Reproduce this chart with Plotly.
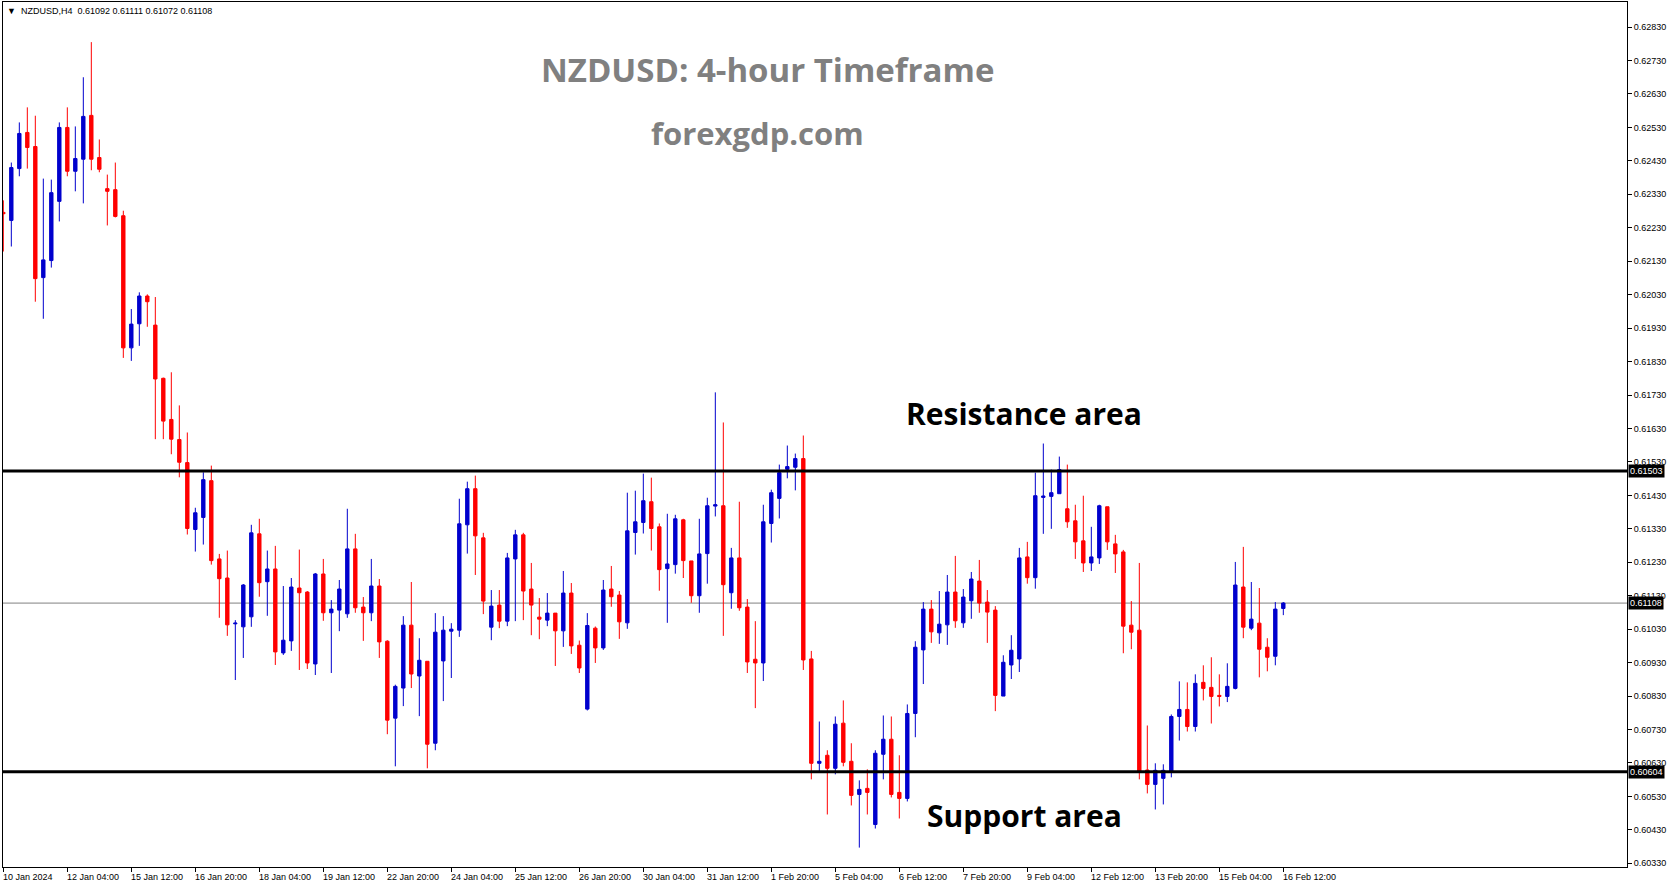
import plotly.graph_objects as go

# ---------------- data (NZDUSD H4 candles) ----------------
opens = [0.62276, 0.62252, 0.62407, 0.62515, 0.62473, 0.62081, 0.62132, 0.62309, 0.62530, 0.62399,
         0.62435, 0.62566, 0.62440, 0.62347, 0.62344, 0.62266, 0.61871, 0.61943, 0.62026, 0.61939,
         0.61780, 0.61657, 0.61597, 0.61528, 0.61328, 0.61364, 0.61474, 0.61240, 0.61183, 0.61046,
         0.61037, 0.61067, 0.61315, 0.61172, 0.61210, 0.60959, 0.60995, 0.61153, 0.61141, 0.60926,
         0.61195, 0.61079, 0.61087, 0.61076, 0.61270, 0.61096, 0.61079, 0.61159, 0.60994, 0.60764,
         0.60854, 0.61042, 0.60890, 0.60934, 0.60689, 0.60935, 0.61024, 0.61027, 0.61342, 0.61450,
         0.61303, 0.61036, 0.61102, 0.61054, 0.61240, 0.61312, 0.61150, 0.61066, 0.61057, 0.61078,
         0.61025, 0.61138, 0.60982, 0.60791, 0.61033, 0.60974, 0.61150, 0.61132, 0.61049, 0.61319,
         0.61349, 0.61411, 0.61336, 0.61211, 0.61223, 0.61357, 0.61234, 0.61130, 0.61256, 0.61398,
         0.61399, 0.61139, 0.61243, 0.61096, 0.60940, 0.60929, 0.61346, 0.61421, 0.61508, 0.61514,
         0.61540, 0.60941, 0.60629, 0.60653, 0.60614, 0.60749, 0.60635, 0.60536, 0.60554, 0.60446,
         0.60656, 0.60701, 0.60542, 0.60524, 0.60778, 0.60968, 0.61090, 0.61019, 0.61043, 0.61141,
         0.61049, 0.61115, 0.61174, 0.61111, 0.61087, 0.60830, 0.60923, 0.60941, 0.61246, 0.61184,
         0.61424, 0.61427, 0.61435, 0.61390, 0.61354, 0.61294, 0.61228, 0.61243, 0.61396, 0.61285,
         0.61261, 0.61042, 0.61027, 0.60609, 0.60566, 0.60584, 0.60605, 0.60769, 0.60790, 0.60739,
         0.60871, 0.60856, 0.60832, 0.60829, 0.60853, 0.61156, 0.61033, 0.61048, 0.60976, 0.60949,
         0.61092]
highs = [0.62312, 0.62425, 0.62545, 0.62590, 0.62565, 0.62377, 0.62374, 0.62545, 0.62590, 0.62533,
         0.62680, 0.62785, 0.62494, 0.62389, 0.62425, 0.62281, 0.61987, 0.62037, 0.62031, 0.62023,
         0.61782, 0.61798, 0.61699, 0.61618, 0.61393, 0.61499, 0.61519, 0.61255, 0.61265, 0.61057,
         0.61165, 0.61342, 0.61360, 0.61265, 0.61279, 0.61159, 0.61183, 0.61268, 0.61144, 0.61198,
         0.61240, 0.61117, 0.61177, 0.61390, 0.61315, 0.61126, 0.61240, 0.61180, 0.60997, 0.60864,
         0.61069, 0.61171, 0.61003, 0.60934, 0.61078, 0.61069, 0.61048, 0.61420, 0.61471, 0.61489,
         0.61318, 0.61147, 0.61147, 0.61258, 0.61327, 0.61318, 0.61228, 0.61123, 0.61138, 0.61078,
         0.61204, 0.61168, 0.60996, 0.61078, 0.61038, 0.61177, 0.61219, 0.61144, 0.61438, 0.61444,
         0.61495, 0.61483, 0.61346, 0.61375, 0.61372, 0.61360, 0.61234, 0.61360, 0.61423, 0.61738,
         0.61648, 0.61273, 0.61411, 0.61120, 0.61054, 0.61402, 0.61447, 0.61522, 0.61579, 0.61555,
         0.61609, 0.60965, 0.60754, 0.60668, 0.60769, 0.60817, 0.60689, 0.60578, 0.60611, 0.60668,
         0.60772, 0.60769, 0.60653, 0.60805, 0.60994, 0.61111, 0.61117, 0.61144, 0.61192, 0.61249,
         0.61150, 0.61201, 0.61237, 0.61147, 0.61099, 0.60952, 0.61012, 0.61273, 0.61291, 0.61498,
         0.61585, 0.61507, 0.61546, 0.61522, 0.61402, 0.61429, 0.61336, 0.61402, 0.61396, 0.61312,
         0.61267, 0.61114, 0.61228, 0.60742, 0.60629, 0.60626, 0.60775, 0.60874, 0.60871, 0.60895,
         0.60922, 0.60946, 0.60895, 0.60928, 0.61231, 0.61276, 0.61171, 0.61153, 0.61003, 0.61111,
         0.61111]
lows = [0.62159, 0.62174, 0.62384, 0.62407, 0.62009, 0.61958, 0.62111, 0.62249, 0.62384, 0.62339,
        0.62303, 0.62402, 0.62396, 0.62237, 0.62261, 0.61841, 0.61832, 0.61877, 0.61934, 0.61598,
        0.61598, 0.61553, 0.61484, 0.61313, 0.61262, 0.61283, 0.61223, 0.61064, 0.61010, 0.60878,
        0.60944, 0.61037, 0.61127, 0.61070, 0.60923, 0.60953, 0.60965, 0.60908, 0.60911, 0.60893,
        0.61055, 0.60899, 0.61024, 0.61064, 0.61079, 0.60995, 0.61054, 0.60944, 0.60716, 0.60620,
        0.60800, 0.60854, 0.60770, 0.60614, 0.60668, 0.60815, 0.60884, 0.61007, 0.61256, 0.61192,
        0.61075, 0.60997, 0.61033, 0.61039, 0.61054, 0.61057, 0.61012, 0.61000, 0.61039, 0.60920,
        0.60977, 0.60956, 0.60899, 0.60787, 0.60929, 0.60968, 0.61097, 0.61001, 0.61031, 0.61253,
        0.61316, 0.61265, 0.61145, 0.61049, 0.61196, 0.61183, 0.61109, 0.61079, 0.61166, 0.61367,
        0.61010, 0.61091, 0.61085, 0.60899, 0.60794, 0.60875, 0.61289, 0.61361, 0.61481, 0.61445,
        0.60908, 0.60581, 0.60605, 0.60476, 0.60596, 0.60620, 0.60503, 0.60377, 0.60476, 0.60434,
        0.60581, 0.60527, 0.60464, 0.60515, 0.60707, 0.60866, 0.60989, 0.60986, 0.60983, 0.61034,
        0.61034, 0.61061, 0.61079, 0.60989, 0.60785, 0.60830, 0.60881, 0.60902, 0.61166, 0.61151,
        0.61315, 0.61330, 0.61435, 0.61333, 0.61240, 0.61201, 0.61204, 0.61225, 0.61267, 0.61198,
        0.60958, 0.60970, 0.60581, 0.60539, 0.60491, 0.60506, 0.60587, 0.60697, 0.60724, 0.60724,
        0.60817, 0.60748, 0.60799, 0.60812, 0.60850, 0.61003, 0.61027, 0.60886, 0.60904, 0.60922,
        0.61072]
closes = [0.62272, 0.62410, 0.62512, 0.62470, 0.62078, 0.62134, 0.62335, 0.62530, 0.62399, 0.62437,
          0.62563, 0.62435, 0.62405, 0.62339, 0.62264, 0.61871, 0.61942, 0.62026, 0.62009, 0.61778,
          0.61652, 0.61598, 0.61529, 0.61331, 0.61378, 0.61477, 0.61235, 0.61181, 0.61043, 0.61048,
          0.61162, 0.61318, 0.61169, 0.61210, 0.60962, 0.60997, 0.61156, 0.61139, 0.60929, 0.61195,
          0.61079, 0.61090, 0.61150, 0.61270, 0.61094, 0.61079, 0.61159, 0.60992, 0.60758, 0.60859,
          0.61042, 0.60896, 0.60937, 0.60686, 0.61021, 0.61027, 0.61030, 0.61345, 0.61450, 0.61309,
          0.61114, 0.61099, 0.61054, 0.61243, 0.61312, 0.61144, 0.61102, 0.61060, 0.61078, 0.61025,
          0.61138, 0.60980, 0.60914, 0.61041, 0.60974, 0.61147, 0.61127, 0.61052, 0.61324, 0.61351,
          0.61414, 0.61331, 0.61208, 0.61225, 0.61360, 0.61235, 0.61130, 0.61255, 0.61399, 0.61402,
          0.61163, 0.61243, 0.61094, 0.60932, 0.60929, 0.61351, 0.61438, 0.61498, 0.61516, 0.61540,
          0.60938, 0.60629, 0.60635, 0.60614, 0.60746, 0.60632, 0.60533, 0.60551, 0.60542, 0.60659,
          0.60701, 0.60536, 0.60524, 0.60778, 0.60976, 0.61090, 0.61022, 0.61045, 0.61141, 0.61055,
          0.61126, 0.61180, 0.61108, 0.61081, 0.60832, 0.60931, 0.60967, 0.61243, 0.61184, 0.61429,
          0.61428, 0.61438, 0.61507, 0.61351, 0.61291, 0.61228, 0.61246, 0.61399, 0.61291, 0.61255,
          0.61039, 0.61021, 0.60605, 0.60566, 0.60608, 0.60608, 0.60769, 0.60790, 0.60739, 0.60868,
          0.60853, 0.60829, 0.60829, 0.60859, 0.61162, 0.61036, 0.61060, 0.60970, 0.60946, 0.61090,
          0.61108]

x_label_bars = [0, 8, 16, 24, 32, 40, 48, 56, 64, 72, 80, 88, 96, 104, 112, 120, 128, 136, 144, 152, 160]
x_labels = ["10 Jan 2024", "12 Jan 04:00", "15 Jan 12:00", "16 Jan 20:00", "18 Jan 04:00",
            "19 Jan 12:00", "22 Jan 20:00", "24 Jan 04:00", "25 Jan 12:00", "26 Jan 20:00",
            "30 Jan 04:00", "31 Jan 12:00", "1 Feb 20:00", "5 Feb 04:00", "6 Feb 12:00",
            "7 Feb 20:00", "9 Feb 04:00", "12 Feb 12:00", "13 Feb 20:00", "15 Feb 04:00",
            "16 Feb 12:00"]
y_tick_labels = ["0.60330", "0.60430", "0.60530", "0.60630", "0.60730", "0.60830", "0.60930",
                 "0.61030", "0.61130", "0.61230", "0.61330", "0.61430", "0.61530", "0.61630",
                 "0.61730", "0.61830", "0.61930", "0.62030", "0.62130", "0.62230", "0.62330",
                 "0.62430", "0.62530", "0.62630", "0.62730", "0.62830"]
y_tick_vals = [float(s) for s in y_tick_labels]

resistance = 0.61503
support = 0.60604
last_price = 0.61108
header = "NZDUSD,H4  0.61092 0.61111 0.61072 0.61108"

# ---------------- figure ----------------
W, H = 1673, 888
bars = list(range(len(opens)))
BLUE = "#0000cd"
RED = "#ff0000"

fig = go.Figure()
fig.add_trace(go.Candlestick(
    x=bars, open=opens, high=highs, low=lows, close=closes,
    increasing=dict(line=dict(color=BLUE, width=1), fillcolor=BLUE),
    decreasing=dict(line=dict(color=RED, width=1), fillcolor=RED),
    whiskerwidth=0, hoverinfo="skip", showlegend=False,
))

# current price line (thin grey) and support/resistance (thick black)
fig.add_shape(type="line", xref="paper", x0=0, x1=1, yref="y", y0=last_price, y1=last_price,
              line=dict(color="#808080", width=1), layer="below")
for lvl in (resistance, support):
    fig.add_shape(type="line", xref="paper", x0=0, x1=1, yref="y", y0=lvl, y1=lvl,
                  line=dict(color="black", width=3), layer="above")

AXFONT = dict(family="Liberation Sans, Arial, sans-serif", size=9, color="black")

annotations = []
# bottom date labels
for b, lab in zip(x_label_bars, x_labels):
    annotations.append(dict(x=b, xref="x", y=0, yref="paper", yanchor="top", xanchor="left",
                            yshift=-3, xshift=-2, text=lab, showarrow=False, font=AXFONT))
# highlighted price labels on the axis
for lvl in (resistance, last_price, support):
    annotations.append(dict(x=1, xref="paper", y=lvl, yref="y", xanchor="left", yanchor="middle",
                            xshift=1, text=f"{lvl:.5f}", showarrow=False, bgcolor="black",
                            borderpad=1, font=dict(family="Liberation Sans, Arial, sans-serif",
                                                   size=9, color="white")))
# header
annotations.append(dict(x=0, xref="paper", y=1, yref="paper", xanchor="left", yanchor="top",
                        xshift=2, yshift=-2, text="▼  " + header, showarrow=False,
                        font=dict(family="Liberation Sans, Arial, sans-serif", size=9, color="black")))
# titles
TFONT = "Open Sans, Noto Sans, sans-serif"
annotations.append(dict(x=0.471, xref="paper", y=0.9214, yref="paper", xanchor="center",
                        yanchor="middle", text="<b>NZDUSD: 4-hour Timeframe</b>", showarrow=False,
                        font=dict(family=TFONT, size=33, color="#808080")))
annotations.append(dict(x=0.4649, xref="paper", y=0.8486, yref="paper", xanchor="center",
                        yanchor="middle", text="<b>forexgdp.com</b>", showarrow=False,
                        font=dict(family=TFONT, size=31, color="#808080")))
annotations.append(dict(x=0.6287, xref="paper", y=0.5237, yref="paper", xanchor="center",
                        yanchor="middle", text="<b>Resistance area</b>", showarrow=False,
                        font=dict(family=TFONT, size=30, color="black")))
annotations.append(dict(x=0.6287, xref="paper", y=0.0601, yref="paper", xanchor="center",
                        yanchor="middle", text="<b>Support area</b>", showarrow=False,
                        font=dict(family=TFONT, size=30, color="black")))

fig.update_layout(
    width=W, height=H,
    margin=dict(l=3, r=46, t=2, b=21, pad=0),
    paper_bgcolor="white", plot_bgcolor="white",
    showlegend=False, boxgap=0.4,
    annotations=annotations,
    xaxis=dict(range=[-0.04, 202.96], showgrid=False, zeroline=False, showline=True, mirror=True,
               linecolor="black", linewidth=1, ticks="outside", ticklen=4, tickcolor="black",
               tickvals=x_label_bars, showticklabels=False, rangeslider=dict(visible=False),
               fixedrange=True),
    yaxis=dict(range=[0.60319, 0.62905], side="right", showgrid=False, zeroline=False,
               showline=True, mirror=True, linecolor="black", linewidth=1, ticks="outside",
               ticklen=4, tickcolor="black", tickvals=y_tick_vals, ticktext=y_tick_labels,
               tickfont=AXFONT, fixedrange=True),
)

fig.write_html("out.html", config={"displayModeBar": False},
               post_script="document.body.style.margin='0';document.body.style.overflow='hidden';")
